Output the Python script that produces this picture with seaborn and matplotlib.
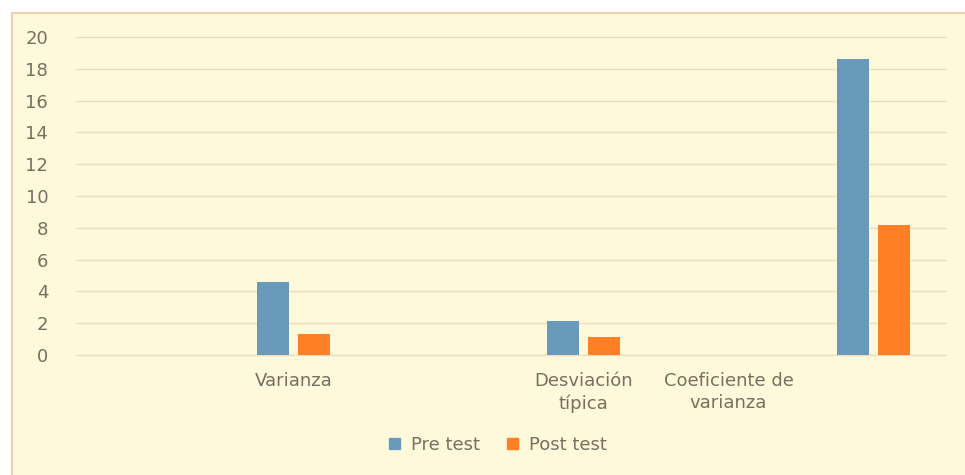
import pandas as pd
import matplotlib.pyplot as plt
import seaborn as sns
from matplotlib.patches import Rectangle

sns.set_style("white")
plt.rcParams['font.family'] = ['DejaVu Sans']

# data
medidas = ["Varianza", "Desviación típica", "Coeficiente de varianza"]
pre_test = [4.6, 2.15, 18.6]
post_test = [1.3, 1.15, 8.15]
series = ["Pre test", "Post test"]

# the original chart has empty slots between the groups
slots = [" ", "Varianza", "  ", "Desviación típica", "   ", "Coeficiente de varianza"]
slot_labels = ["", "Varianza", "", "Desviación\ntípica", "Coeficiente de\nvarianza", ""]
yticks = list(range(0, 21, 2))

df = pd.DataFrame({
    "Medida": medidas * 2,
    "Valor": pre_test + post_test,
    "Serie": [series[0]] * 3 + [series[1]] * 3,
})

bg = "#FFF9DC"
grid_col = "#F4D9BA"
text_col = "#7A6E60"
colors = {"Pre test": "#6A9AB9", "Post test": "#FF7F27"}

fig = plt.figure(figsize=(9.65, 4.75), dpi=100, facecolor="white")
fig.patches.append(Rectangle((12 / 965, -0.01), 1.0, 1 - 13 / 475 + 0.01,
                             transform=fig.transFigure, facecolor=bg,
                             edgecolor="#F0CFAE", linewidth=1.5, zorder=-10))
ax = fig.add_axes([76 / 965, 1 - 355 / 475, 870 / 965, (355 - 37) / 475])
ax.patch.set_alpha(0)

sns.barplot(data=df, x="Medida", y="Valor", hue="Serie", order=slots,
            hue_order=series, palette=colors, width=0.566, gap=0.22,
            ax=ax, legend=False, saturation=1, linewidth=0)

ax.set_xlim(-0.5, len(slots) - 0.5)
ax.set_ylim(0, 20)
ax.set_yticks(yticks)
ax.set_xticks(range(len(slots)))
ax.set_xticklabels(slot_labels, linespacing=1.3)
ax.set_xlabel("")
ax.set_ylabel("")
ax.yaxis.grid(True, color=grid_col, linewidth=1)
for gl in ax.get_ygridlines():
    gl.set_clip_on(False)
ax.set_axisbelow(True)
for s in ax.spines.values():
    s.set_visible(False)
ax.tick_params(axis="y", length=0, pad=20, labelsize=13, labelcolor=text_col)
ax.tick_params(axis="x", length=0, pad=12, labelsize=13, labelcolor=text_col)

handles = [Rectangle((0, 0), 1, 1, color=colors[s]) for s in series]
fig.legend(handles, series, loc="center", bbox_to_anchor=(498 / 965, 1 - 445 / 475),
           ncol=2, frameon=False, fontsize=13, labelcolor=text_col,
           handlelength=0.6, handleheight=0.6, columnspacing=1.5, handletextpad=0.6)

fig.savefig("out.png", dpi=100, facecolor="white")
